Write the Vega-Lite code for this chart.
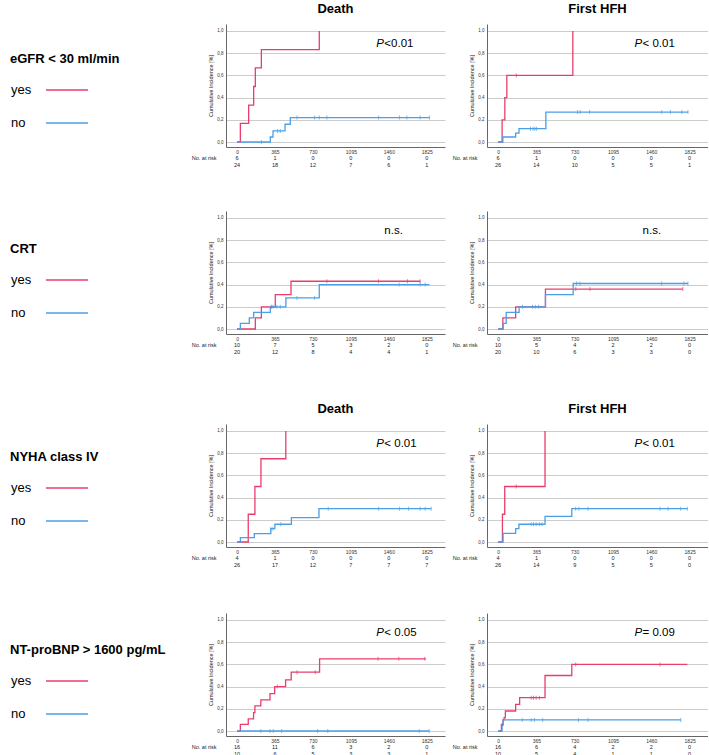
{
"$schema":"https://vega.github.io/schema/vega-lite/v6.json",
"padding":{"left":10,"top":3,"right":0,"bottom":0},
"background":"white",
"config":{"view":{"stroke":null},"font":"Liberation Sans","title":{"fontSize":13,"fontWeight":"bold","font":"Liberation Sans","color":"#000","offset":8,"anchor":"middle"},
"legend":{"orient":"none","legendX":-216,"legendY":29,"titleFontSize":13,"titleFontWeight":"bold","titleColor":"#000","titlePadding":2,"titleLimit":0,"labelFontSize":13,"labelColor":"#000","symbolType":"stroke","symbolSize":1764,"symbolStrokeWidth":1.5,"symbolOffset":35,"labelOffset":-78,"rowPadding":4}
},
"datasets":{
"curves":[
{"panel":"A1","group":"yes","t":0,"p":0},{"panel":"A1","group":"yes","t":32,"p":0.167},{"panel":"A1","group":"yes","t":112,"p":0.333},{"panel":"A1","group":"yes","t":160,"p":0.5},{"panel":"A1","group":"yes","t":176,"p":0.667},{"panel":"A1","group":"yes","t":234,"p":0.833},{"panel":"A1","group":"yes","t":791,"p":1},
{"panel":"A1","group":"no","t":0,"p":0},{"panel":"A1","group":"no","t":320,"p":0.045},{"panel":"A1","group":"no","t":346,"p":0.1},{"panel":"A1","group":"no","t":462,"p":0.16},{"panel":"A1","group":"no","t":512,"p":0.22},{"panel":"A1","group":"no","t":1851,"p":0.22},
{"panel":"A2","group":"yes","t":0,"p":0},{"panel":"A2","group":"yes","t":38,"p":0.2},{"panel":"A2","group":"yes","t":64,"p":0.4},{"panel":"A2","group":"yes","t":83,"p":0.6},{"panel":"A2","group":"yes","t":712,"p":1},
{"panel":"A2","group":"no","t":0,"p":0},{"panel":"A2","group":"no","t":45,"p":0.045},{"panel":"A2","group":"no","t":167,"p":0.08},{"panel":"A2","group":"no","t":199,"p":0.12},{"panel":"A2","group":"no","t":455,"p":0.27},{"panel":"A2","group":"no","t":1809,"p":0.27},
{"panel":"B1","group":"yes","t":0,"p":0},{"panel":"B1","group":"yes","t":176,"p":0.1},{"panel":"B1","group":"yes","t":234,"p":0.2},{"panel":"B1","group":"yes","t":368,"p":0.31},{"panel":"B1","group":"yes","t":519,"p":0.43},{"panel":"B1","group":"yes","t":1761,"p":0.43},
{"panel":"B1","group":"no","t":0,"p":0},{"panel":"B1","group":"no","t":32,"p":0.05},{"panel":"B1","group":"no","t":118,"p":0.1},{"panel":"B1","group":"no","t":160,"p":0.15},{"panel":"B1","group":"no","t":320,"p":0.2},{"panel":"B1","group":"no","t":470,"p":0.28},{"panel":"B1","group":"no","t":791,"p":0.4},{"panel":"B1","group":"no","t":1851,"p":0.4},
{"panel":"B2","group":"yes","t":0,"p":0},{"panel":"B2","group":"yes","t":45,"p":0.1},{"panel":"B2","group":"yes","t":167,"p":0.2},{"panel":"B2","group":"yes","t":451,"p":0.36},{"panel":"B2","group":"yes","t":1760,"p":0.36},
{"panel":"B2","group":"no","t":0,"p":0},{"panel":"B2","group":"no","t":48,"p":0.05},{"panel":"B2","group":"no","t":77,"p":0.15},{"panel":"B2","group":"no","t":200,"p":0.2},{"panel":"B2","group":"no","t":451,"p":0.31},{"panel":"B2","group":"no","t":715,"p":0.41},{"panel":"B2","group":"no","t":1809,"p":0.41},
{"panel":"C1","group":"yes","t":0,"p":0},{"panel":"C1","group":"yes","t":108,"p":0.25},{"panel":"C1","group":"yes","t":172,"p":0.5},{"panel":"C1","group":"yes","t":230,"p":0.75},{"panel":"C1","group":"yes","t":469,"p":1},
{"panel":"C1","group":"no","t":0,"p":0},{"panel":"C1","group":"no","t":32,"p":0.04},{"panel":"C1","group":"no","t":166,"p":0.075},{"panel":"C1","group":"no","t":325,"p":0.12},{"panel":"C1","group":"no","t":364,"p":0.16},{"panel":"C1","group":"no","t":523,"p":0.22},{"panel":"C1","group":"no","t":788,"p":0.3},{"panel":"C1","group":"no","t":1867,"p":0.3},
{"panel":"C2","group":"yes","t":0,"p":0},{"panel":"C2","group":"yes","t":41,"p":0.25},{"panel":"C2","group":"yes","t":63,"p":0.5},{"panel":"C2","group":"yes","t":447,"p":1},
{"panel":"C2","group":"no","t":0,"p":0},{"panel":"C2","group":"no","t":47,"p":0.078},{"panel":"C2","group":"no","t":167,"p":0.12},{"panel":"C2","group":"no","t":198,"p":0.16},{"panel":"C2","group":"no","t":447,"p":0.23},{"panel":"C2","group":"no","t":702,"p":0.3},{"panel":"C2","group":"no","t":1803,"p":0.3},
{"panel":"D1","group":"yes","t":0,"p":0},{"panel":"D1","group":"yes","t":32,"p":0.06},{"panel":"D1","group":"yes","t":108,"p":0.11},{"panel":"D1","group":"yes","t":159,"p":0.166},{"panel":"D1","group":"yes","t":172,"p":0.226},{"panel":"D1","group":"yes","t":229,"p":0.28},{"panel":"D1","group":"yes","t":317,"p":0.337},{"panel":"D1","group":"yes","t":362,"p":0.4},{"panel":"D1","group":"yes","t":467,"p":0.46},{"panel":"D1","group":"yes","t":521,"p":0.53},{"panel":"D1","group":"yes","t":794,"p":0.65},{"panel":"D1","group":"yes","t":1816,"p":0.65},
{"panel":"D1","group":"no","t":0,"p":0},{"panel":"D1","group":"no","t":1848,"p":0},
{"panel":"D2","group":"yes","t":0,"p":0},{"panel":"D2","group":"yes","t":31,"p":0.06},{"panel":"D2","group":"yes","t":47,"p":0.1},{"panel":"D2","group":"yes","t":57,"p":0.12},{"panel":"D2","group":"yes","t":69,"p":0.18},{"panel":"D2","group":"yes","t":167,"p":0.24},{"panel":"D2","group":"yes","t":205,"p":0.3},{"panel":"D2","group":"yes","t":447,"p":0.5},{"panel":"D2","group":"yes","t":702,"p":0.6},{"panel":"D2","group":"yes","t":1803,"p":0.6},
{"panel":"D2","group":"no","t":0,"p":0},{"panel":"D2","group":"no","t":38,"p":0.05},{"panel":"D2","group":"no","t":47,"p":0.1},{"panel":"D2","group":"no","t":1740,"p":0.1}
],
"censor":[
{"panel":"A1","group":"no","t":234,"p":0},{"panel":"A1","group":"no","t":390,"p":0.1},{"panel":"A1","group":"no","t":416,"p":0.1},{"panel":"A1","group":"no","t":576,"p":0.22},{"panel":"A1","group":"no","t":746,"p":0.22},{"panel":"A1","group":"no","t":791,"p":0.22},{"panel":"A1","group":"no","t":864,"p":0.22},{"panel":"A1","group":"no","t":1361,"p":0.22},{"panel":"A1","group":"no","t":1563,"p":0.22},{"panel":"A1","group":"no","t":1633,"p":0.22},{"panel":"A1","group":"no","t":1761,"p":0.22},{"panel":"A1","group":"no","t":1851,"p":0.22},
{"panel":"A2","group":"yes","t":173,"p":0.6},
{"panel":"A2","group":"no","t":308,"p":0.12},{"panel":"A2","group":"no","t":333,"p":0.12},{"panel":"A2","group":"no","t":350,"p":0.12},{"panel":"A2","group":"no","t":366,"p":0.12},{"panel":"A2","group":"no","t":757,"p":0.27},{"panel":"A2","group":"no","t":782,"p":0.27},{"panel":"A2","group":"no","t":872,"p":0.27},{"panel":"A2","group":"no","t":1559,"p":0.27},{"panel":"A2","group":"no","t":1642,"p":0.27},{"panel":"A2","group":"no","t":1751,"p":0.27},{"panel":"A2","group":"no","t":1809,"p":0.27},
{"panel":"B1","group":"yes","t":330,"p":0.2},{"panel":"B1","group":"yes","t":864,"p":0.43},{"panel":"B1","group":"yes","t":1361,"p":0.43},{"panel":"B1","group":"yes","t":1639,"p":0.43},{"panel":"B1","group":"yes","t":1761,"p":0.43},
{"panel":"B1","group":"no","t":346,"p":0.2},{"panel":"B1","group":"no","t":384,"p":0.2},{"panel":"B1","group":"no","t":416,"p":0.2},{"panel":"B1","group":"no","t":576,"p":0.28},{"panel":"B1","group":"no","t":746,"p":0.28},{"panel":"B1","group":"no","t":1559,"p":0.4},{"panel":"B1","group":"no","t":1761,"p":0.4},{"panel":"B1","group":"no","t":1809,"p":0.4},
{"panel":"B2","group":"yes","t":740,"p":0.36},{"panel":"B2","group":"yes","t":875,"p":0.36},{"panel":"B2","group":"yes","t":1760,"p":0.36},
{"panel":"B2","group":"no","t":232,"p":0.2},{"panel":"B2","group":"no","t":328,"p":0.2},{"panel":"B2","group":"no","t":354,"p":0.2},{"panel":"B2","group":"no","t":386,"p":0.2},{"panel":"B2","group":"no","t":747,"p":0.41},{"panel":"B2","group":"no","t":779,"p":0.41},{"panel":"B2","group":"no","t":1558,"p":0.41},{"panel":"B2","group":"no","t":1770,"p":0.41},{"panel":"B2","group":"no","t":1809,"p":0.41},
{"panel":"C1","group":"no","t":325,"p":0.12},{"panel":"C1","group":"no","t":345,"p":0.12},{"panel":"C1","group":"no","t":420,"p":0.16},{"panel":"C1","group":"no","t":877,"p":0.3},{"panel":"C1","group":"no","t":1362,"p":0.3},{"panel":"C1","group":"no","t":1563,"p":0.3},{"panel":"C1","group":"no","t":1650,"p":0.3},{"panel":"C1","group":"no","t":1761,"p":0.3},{"panel":"C1","group":"no","t":1809,"p":0.3},{"panel":"C1","group":"no","t":1867,"p":0.3},
{"panel":"C2","group":"yes","t":173,"p":0.5},
{"panel":"C2","group":"no","t":315,"p":0.16},{"panel":"C2","group":"no","t":337,"p":0.16},{"panel":"C2","group":"no","t":362,"p":0.16},{"panel":"C2","group":"no","t":393,"p":0.16},{"panel":"C2","group":"no","t":418,"p":0.16},{"panel":"C2","group":"no","t":739,"p":0.3},{"panel":"C2","group":"no","t":770,"p":0.3},{"panel":"C2","group":"no","t":856,"p":0.3},{"panel":"C2","group":"no","t":1542,"p":0.3},{"panel":"C2","group":"no","t":1620,"p":0.3},{"panel":"C2","group":"no","t":1740,"p":0.3},{"panel":"C2","group":"no","t":1803,"p":0.3},
{"panel":"D1","group":"yes","t":387,"p":0.4},{"panel":"D1","group":"yes","t":578,"p":0.53},{"panel":"D1","group":"yes","t":752,"p":0.53},{"panel":"D1","group":"yes","t":1356,"p":0.65},{"panel":"D1","group":"yes","t":1556,"p":0.65},{"panel":"D1","group":"yes","t":1806,"p":0.65},
{"panel":"D1","group":"no","t":229,"p":0},{"panel":"D1","group":"no","t":317,"p":0},{"panel":"D1","group":"no","t":349,"p":0},{"panel":"D1","group":"no","t":429,"p":0},{"panel":"D1","group":"no","t":775,"p":0},{"panel":"D1","group":"no","t":873,"p":0},{"panel":"D1","group":"no","t":1752,"p":0},{"panel":"D1","group":"no","t":1848,"p":0},
{"panel":"D2","group":"yes","t":315,"p":0.3},{"panel":"D2","group":"yes","t":337,"p":0.3},{"panel":"D2","group":"yes","t":362,"p":0.3},{"panel":"D2","group":"yes","t":393,"p":0.3},{"panel":"D2","group":"yes","t":739,"p":0.6},{"panel":"D2","group":"yes","t":1542,"p":0.6},
{"panel":"D2","group":"no","t":230,"p":0.1},{"panel":"D2","group":"no","t":315,"p":0.1},{"panel":"D2","group":"no","t":346,"p":0.1},{"panel":"D2","group":"no","t":425,"p":0.1},{"panel":"D2","group":"no","t":765,"p":0.1},{"panel":"D2","group":"no","t":856,"p":0.1},{"panel":"D2","group":"no","t":1740,"p":0.1}
],
"risk":[
{"panel":"A1","group":"yes","t":0,"n":6},{"panel":"A1","group":"yes","t":365,"n":1},{"panel":"A1","group":"yes","t":730,"n":0},{"panel":"A1","group":"yes","t":1095,"n":0},{"panel":"A1","group":"yes","t":1460,"n":0},{"panel":"A1","group":"yes","t":1825,"n":0},
{"panel":"A1","group":"no","t":0,"n":24},{"panel":"A1","group":"no","t":365,"n":18},{"panel":"A1","group":"no","t":730,"n":12},{"panel":"A1","group":"no","t":1095,"n":7},{"panel":"A1","group":"no","t":1460,"n":6},{"panel":"A1","group":"no","t":1825,"n":1},
{"panel":"A2","group":"yes","t":0,"n":6},{"panel":"A2","group":"yes","t":365,"n":1},{"panel":"A2","group":"yes","t":730,"n":0},{"panel":"A2","group":"yes","t":1095,"n":0},{"panel":"A2","group":"yes","t":1460,"n":0},{"panel":"A2","group":"yes","t":1825,"n":0},
{"panel":"A2","group":"no","t":0,"n":26},{"panel":"A2","group":"no","t":365,"n":14},{"panel":"A2","group":"no","t":730,"n":10},{"panel":"A2","group":"no","t":1095,"n":5},{"panel":"A2","group":"no","t":1460,"n":5},{"panel":"A2","group":"no","t":1825,"n":1},
{"panel":"B1","group":"yes","t":0,"n":10},{"panel":"B1","group":"yes","t":365,"n":7},{"panel":"B1","group":"yes","t":730,"n":5},{"panel":"B1","group":"yes","t":1095,"n":3},{"panel":"B1","group":"yes","t":1460,"n":2},{"panel":"B1","group":"yes","t":1825,"n":0},
{"panel":"B1","group":"no","t":0,"n":20},{"panel":"B1","group":"no","t":365,"n":12},{"panel":"B1","group":"no","t":730,"n":8},{"panel":"B1","group":"no","t":1095,"n":4},{"panel":"B1","group":"no","t":1460,"n":4},{"panel":"B1","group":"no","t":1825,"n":1},
{"panel":"B2","group":"yes","t":0,"n":10},{"panel":"B2","group":"yes","t":365,"n":5},{"panel":"B2","group":"yes","t":730,"n":4},{"panel":"B2","group":"yes","t":1095,"n":2},{"panel":"B2","group":"yes","t":1460,"n":2},{"panel":"B2","group":"yes","t":1825,"n":0},
{"panel":"B2","group":"no","t":0,"n":20},{"panel":"B2","group":"no","t":365,"n":10},{"panel":"B2","group":"no","t":730,"n":6},{"panel":"B2","group":"no","t":1095,"n":3},{"panel":"B2","group":"no","t":1460,"n":3},{"panel":"B2","group":"no","t":1825,"n":0},
{"panel":"C1","group":"yes","t":0,"n":4},{"panel":"C1","group":"yes","t":365,"n":1},{"panel":"C1","group":"yes","t":730,"n":0},{"panel":"C1","group":"yes","t":1095,"n":0},{"panel":"C1","group":"yes","t":1460,"n":0},{"panel":"C1","group":"yes","t":1825,"n":0},
{"panel":"C1","group":"no","t":0,"n":26},{"panel":"C1","group":"no","t":365,"n":17},{"panel":"C1","group":"no","t":730,"n":12},{"panel":"C1","group":"no","t":1095,"n":7},{"panel":"C1","group":"no","t":1460,"n":7},{"panel":"C1","group":"no","t":1825,"n":7},
{"panel":"C2","group":"yes","t":0,"n":4},{"panel":"C2","group":"yes","t":365,"n":1},{"panel":"C2","group":"yes","t":730,"n":0},{"panel":"C2","group":"yes","t":1095,"n":0},{"panel":"C2","group":"yes","t":1460,"n":0},{"panel":"C2","group":"yes","t":1825,"n":0},
{"panel":"C2","group":"no","t":0,"n":26},{"panel":"C2","group":"no","t":365,"n":14},{"panel":"C2","group":"no","t":730,"n":9},{"panel":"C2","group":"no","t":1095,"n":5},{"panel":"C2","group":"no","t":1460,"n":5},{"panel":"C2","group":"no","t":1825,"n":0},
{"panel":"D1","group":"yes","t":0,"n":16},{"panel":"D1","group":"yes","t":365,"n":11},{"panel":"D1","group":"yes","t":730,"n":6},{"panel":"D1","group":"yes","t":1095,"n":3},{"panel":"D1","group":"yes","t":1460,"n":2},{"panel":"D1","group":"yes","t":1825,"n":0},
{"panel":"D1","group":"no","t":0,"n":10},{"panel":"D1","group":"no","t":365,"n":6},{"panel":"D1","group":"no","t":730,"n":5},{"panel":"D1","group":"no","t":1095,"n":3},{"panel":"D1","group":"no","t":1460,"n":3},{"panel":"D1","group":"no","t":1825,"n":1},
{"panel":"D2","group":"yes","t":0,"n":16},{"panel":"D2","group":"yes","t":365,"n":6},{"panel":"D2","group":"yes","t":730,"n":4},{"panel":"D2","group":"yes","t":1095,"n":2},{"panel":"D2","group":"yes","t":1460,"n":2},{"panel":"D2","group":"yes","t":1825,"n":0},
{"panel":"D2","group":"no","t":0,"n":10},{"panel":"D2","group":"no","t":365,"n":5},{"panel":"D2","group":"no","t":730,"n":4},{"panel":"D2","group":"no","t":1095,"n":1},{"panel":"D2","group":"no","t":1460,"n":1},{"panel":"D2","group":"no","t":1825,"n":0}
],
"annot":[
{"panel":"A1","p":"P","rest":"<0.01"},{"panel":"A2","p":"P","rest":"< 0.01"},{"panel":"B1","p":"","rest":"n.s."},{"panel":"B2","p":"","rest":"n.s."},{"panel":"C1","p":"P","rest":"< 0.01"},{"panel":"C2","p":"P","rest":"< 0.01"},{"panel":"D1","p":"P","rest":"< 0.05"},{"panel":"D2","p":"P","rest":"= 0.09"}
]
},
"spacing":48,
"resolve":{"scale":{"color":"independent"},"legend":{"color":"independent"}},
"vconcat":[
{"spacing":43,"resolve":{"scale":{"color":"independent"},"legend":{"color":"independent"}},"vconcat":[
{"spacing":7,"resolve":{"scale":{"color":"independent"},"legend":{"color":"independent"}},"hconcat":[
 {"spacing":0,"resolve":{"scale":{"color":"independent"},"legend":{"color":"independent"}},"vconcat":[
  {"width":219,"height":123,"title":"Death","layer":[
   {"data":{"name":"curves"},"transform":[{"filter":"datum.panel=='A1'"}],"mark":{"type":"line","interpolate":"step-after","strokeWidth":1.3},
    "encoding":{"x":{"field":"t","type":"quantitative","scale":{"domain":[-106,2000],"nice":false,"zero":false},"axis":{"values":[0,365,730,1095,1460,1825],"tickCount":12,"format":"d","title":null,"labelFontSize":5,"labelColor":"#333","ticks":false,"labelPadding":2,"grid":false,"domainColor":"#666","labelFlush":false,"labelOverlap":false}},
     "y":{"field":"p","type":"quantitative","scale":{"domain":[-0.045,1.063],"nice":false,"zero":false},"axis":{"values":[0,0.2,0.4,0.6,0.8,1],"tickCount":12,"labelExpr":"replace(format(datum.value,'.1f'),'.',',')","title":"Cumulative Incidence [%]","titleFontSize":5.5,"titleFontWeight":"normal","titleColor":"#222","titlePadding":3,"labelFontSize":4.5,"labelColor":"#333","ticks":false,"labelPadding":3,"grid":true,"gridColor":"#cccccc","domainColor":"#666","labelOverlap":false}},
     "color":{"field":"group","type":"nominal","scale":{"domain":["yes","no"],"range":["#e83e6c","#4a9fe6"]},"legend":{"title":"eGFR < 30 ml/min","legendY":29}}}},
   {"data":{"name":"censor"},"transform":[{"filter":"datum.panel=='A1'"}],"mark":{"type":"tick","orient":"vertical","size":4,"thickness":1},
    "encoding":{"x":{"field":"t","type":"quantitative"},"y":{"field":"p","type":"quantitative"},"color":{"field":"group","type":"nominal","legend":null}}},
   {"data":{"name":"annot"},"transform":[{"filter":"datum.panel=='A1'"}],"mark":{"type":"text","align":"left","baseline":"middle","fontSize":11.5,"fontStyle":"italic","color":"#000"},
    "encoding":{"x":{"datum":1340,"type":"quantitative"},"y":{"datum":0.88,"type":"quantitative"},"text":{"field":"p"}}},
   {"data":{"name":"annot"},"transform":[{"filter":"datum.panel=='A1'"}],"mark":{"type":"text","align":"left","baseline":"middle","fontSize":11.5,"dx":8,"color":"#000"},
    "encoding":{"x":{"datum":1340,"type":"quantitative"},"y":{"datum":0.88,"type":"quantitative"},"text":{"field":"rest"}}}
  ]},
  {"width":219,"height":14,"data":{"name":"risk"},"transform":[{"filter":"datum.panel=='A1'"}],"mark":{"type":"text","fontSize":5.5,"color":"#222"},
   "encoding":{"x":{"field":"t","type":"quantitative","scale":{"domain":[-106,2000],"nice":false,"zero":false},"axis":null},"y":{"field":"group","type":"nominal","scale":{"domain":["yes","no"]},"axis":{"labelExpr":"datum.value=='yes' ? 'No. at risk' : ''","title":null,"domain":false,"ticks":false,"labelFontSize":5.5,"labelPadding":10,"labelColor":"#222","labelOverlap":false}},"text":{"field":"n","type":"quantitative"}}}
 ]},
 {"spacing":0,"resolve":{"scale":{"color":"independent"},"legend":{"color":"independent"}},"vconcat":[
  {"width":221,"height":123,"title":"First HFH","layer":[
   {"data":{"name":"curves"},"transform":[{"filter":"datum.panel=='A2'"}],"mark":{"type":"line","interpolate":"step-after","strokeWidth":1.3},
    "encoding":{"x":{"field":"t","type":"quantitative","scale":{"domain":[-106,2000],"nice":false,"zero":false},"axis":{"values":[0,365,730,1095,1460,1825],"tickCount":12,"format":"d","title":null,"labelFontSize":5,"labelColor":"#333","ticks":false,"labelPadding":2,"grid":false,"domainColor":"#666","labelFlush":false,"labelOverlap":false}},
     "y":{"field":"p","type":"quantitative","scale":{"domain":[-0.045,1.063],"nice":false,"zero":false},"axis":{"values":[0,0.2,0.4,0.6,0.8,1],"tickCount":12,"labelExpr":"replace(format(datum.value,'.1f'),'.',',')","title":"Cumulative Incidence [%]","titleFontSize":5.5,"titleFontWeight":"normal","titleColor":"#222","titlePadding":3,"labelFontSize":4.5,"labelColor":"#333","ticks":false,"labelPadding":3,"grid":true,"gridColor":"#cccccc","domainColor":"#666","labelOverlap":false}},
     "color":{"field":"group","type":"nominal","scale":{"domain":["yes","no"],"range":["#e83e6c","#4a9fe6"]},"legend":null}}},
   {"data":{"name":"censor"},"transform":[{"filter":"datum.panel=='A2'"}],"mark":{"type":"tick","orient":"vertical","size":4,"thickness":1},
    "encoding":{"x":{"field":"t","type":"quantitative"},"y":{"field":"p","type":"quantitative"},"color":{"field":"group","type":"nominal","legend":null}}},
   {"data":{"name":"annot"},"transform":[{"filter":"datum.panel=='A2'"}],"mark":{"type":"text","align":"left","baseline":"middle","fontSize":11.5,"fontStyle":"italic","color":"#000"},
    "encoding":{"x":{"datum":1300,"type":"quantitative"},"y":{"datum":0.88,"type":"quantitative"},"text":{"field":"p"}}},
   {"data":{"name":"annot"},"transform":[{"filter":"datum.panel=='A2'"}],"mark":{"type":"text","align":"left","baseline":"middle","fontSize":11.5,"dx":8,"color":"#000"},
    "encoding":{"x":{"datum":1300,"type":"quantitative"},"y":{"datum":0.88,"type":"quantitative"},"text":{"field":"rest"}}}
  ]},
  {"width":221,"height":14,"data":{"name":"risk"},"transform":[{"filter":"datum.panel=='A2'"}],"mark":{"type":"text","fontSize":5.5,"color":"#222"},
   "encoding":{"x":{"field":"t","type":"quantitative","scale":{"domain":[-106,2000],"nice":false,"zero":false},"axis":null},"y":{"field":"group","type":"nominal","scale":{"domain":["yes","no"]},"axis":{"labelExpr":"datum.value=='yes' ? 'No. at risk' : ''","title":null,"domain":false,"ticks":false,"labelFontSize":5.5,"labelPadding":10,"labelColor":"#222","labelOverlap":false}},"text":{"field":"n","type":"quantitative"}}}
 ]}
]},
{"spacing":7,"resolve":{"scale":{"color":"independent"},"legend":{"color":"independent"}},"hconcat":[
 {"spacing":0,"resolve":{"scale":{"color":"independent"},"legend":{"color":"independent"}},"vconcat":[
  {"width":219,"height":123,"layer":[
   {"data":{"name":"curves"},"transform":[{"filter":"datum.panel=='B1'"}],"mark":{"type":"line","interpolate":"step-after","strokeWidth":1.3},
    "encoding":{"x":{"field":"t","type":"quantitative","scale":{"domain":[-106,2000],"nice":false,"zero":false},"axis":{"values":[0,365,730,1095,1460,1825],"tickCount":12,"format":"d","title":null,"labelFontSize":5,"labelColor":"#333","ticks":false,"labelPadding":2,"grid":false,"domainColor":"#666","labelFlush":false,"labelOverlap":false}},
     "y":{"field":"p","type":"quantitative","scale":{"domain":[-0.045,1.063],"nice":false,"zero":false},"axis":{"values":[0,0.2,0.4,0.6,0.8,1],"tickCount":12,"labelExpr":"replace(format(datum.value,'.1f'),'.',',')","title":"Cumulative Incidence [%]","titleFontSize":5.5,"titleFontWeight":"normal","titleColor":"#222","titlePadding":3,"labelFontSize":4.5,"labelColor":"#333","ticks":false,"labelPadding":3,"grid":true,"gridColor":"#cccccc","domainColor":"#666","labelOverlap":false}},
     "color":{"field":"group","type":"nominal","scale":{"domain":["yes","no"],"range":["#e83e6c","#4a9fe6"]},"legend":{"title":"CRT","legendY":32}}}},
   {"data":{"name":"censor"},"transform":[{"filter":"datum.panel=='B1'"}],"mark":{"type":"tick","orient":"vertical","size":4,"thickness":1},
    "encoding":{"x":{"field":"t","type":"quantitative"},"y":{"field":"p","type":"quantitative"},"color":{"field":"group","type":"nominal","legend":null}}},
   {"data":{"name":"annot"},"transform":[{"filter":"datum.panel=='B1'"}],"mark":{"type":"text","align":"left","baseline":"middle","fontSize":11.5,"fontStyle":"italic","color":"#000"},
    "encoding":{"x":{"datum":1340,"type":"quantitative"},"y":{"datum":0.88,"type":"quantitative"},"text":{"field":"p"}}},
   {"data":{"name":"annot"},"transform":[{"filter":"datum.panel=='B1'"}],"mark":{"type":"text","align":"left","baseline":"middle","fontSize":11.5,"dx":8,"color":"#000"},
    "encoding":{"x":{"datum":1340,"type":"quantitative"},"y":{"datum":0.88,"type":"quantitative"},"text":{"field":"rest"}}}
  ]},
  {"width":219,"height":14,"data":{"name":"risk"},"transform":[{"filter":"datum.panel=='B1'"}],"mark":{"type":"text","fontSize":5.5,"color":"#222"},
   "encoding":{"x":{"field":"t","type":"quantitative","scale":{"domain":[-106,2000],"nice":false,"zero":false},"axis":null},"y":{"field":"group","type":"nominal","scale":{"domain":["yes","no"]},"axis":{"labelExpr":"datum.value=='yes' ? 'No. at risk' : ''","title":null,"domain":false,"ticks":false,"labelFontSize":5.5,"labelPadding":10,"labelColor":"#222","labelOverlap":false}},"text":{"field":"n","type":"quantitative"}}}
 ]},
 {"spacing":0,"resolve":{"scale":{"color":"independent"},"legend":{"color":"independent"}},"vconcat":[
  {"width":221,"height":123,"layer":[
   {"data":{"name":"curves"},"transform":[{"filter":"datum.panel=='B2'"}],"mark":{"type":"line","interpolate":"step-after","strokeWidth":1.3},
    "encoding":{"x":{"field":"t","type":"quantitative","scale":{"domain":[-106,2000],"nice":false,"zero":false},"axis":{"values":[0,365,730,1095,1460,1825],"tickCount":12,"format":"d","title":null,"labelFontSize":5,"labelColor":"#333","ticks":false,"labelPadding":2,"grid":false,"domainColor":"#666","labelFlush":false,"labelOverlap":false}},
     "y":{"field":"p","type":"quantitative","scale":{"domain":[-0.045,1.063],"nice":false,"zero":false},"axis":{"values":[0,0.2,0.4,0.6,0.8,1],"tickCount":12,"labelExpr":"replace(format(datum.value,'.1f'),'.',',')","title":"Cumulative Incidence [%]","titleFontSize":5.5,"titleFontWeight":"normal","titleColor":"#222","titlePadding":3,"labelFontSize":4.5,"labelColor":"#333","ticks":false,"labelPadding":3,"grid":true,"gridColor":"#cccccc","domainColor":"#666","labelOverlap":false}},
     "color":{"field":"group","type":"nominal","scale":{"domain":["yes","no"],"range":["#e83e6c","#4a9fe6"]},"legend":null}}},
   {"data":{"name":"censor"},"transform":[{"filter":"datum.panel=='B2'"}],"mark":{"type":"tick","orient":"vertical","size":4,"thickness":1},
    "encoding":{"x":{"field":"t","type":"quantitative"},"y":{"field":"p","type":"quantitative"},"color":{"field":"group","type":"nominal","legend":null}}},
   {"data":{"name":"annot"},"transform":[{"filter":"datum.panel=='B2'"}],"mark":{"type":"text","align":"left","baseline":"middle","fontSize":11.5,"fontStyle":"italic","color":"#000"},
    "encoding":{"x":{"datum":1300,"type":"quantitative"},"y":{"datum":0.88,"type":"quantitative"},"text":{"field":"p"}}},
   {"data":{"name":"annot"},"transform":[{"filter":"datum.panel=='B2'"}],"mark":{"type":"text","align":"left","baseline":"middle","fontSize":11.5,"dx":8,"color":"#000"},
    "encoding":{"x":{"datum":1300,"type":"quantitative"},"y":{"datum":0.88,"type":"quantitative"},"text":{"field":"rest"}}}
  ]},
  {"width":221,"height":14,"data":{"name":"risk"},"transform":[{"filter":"datum.panel=='B2'"}],"mark":{"type":"text","fontSize":5.5,"color":"#222"},
   "encoding":{"x":{"field":"t","type":"quantitative","scale":{"domain":[-106,2000],"nice":false,"zero":false},"axis":null},"y":{"field":"group","type":"nominal","scale":{"domain":["yes","no"]},"axis":{"labelExpr":"datum.value=='yes' ? 'No. at risk' : ''","title":null,"domain":false,"ticks":false,"labelFontSize":5.5,"labelPadding":10,"labelColor":"#222","labelOverlap":false}},"text":{"field":"n","type":"quantitative"}}}
 ]}
]}
]},
{"spacing":45,"resolve":{"scale":{"color":"independent"},"legend":{"color":"independent"}},"vconcat":[
{"spacing":7,"resolve":{"scale":{"color":"independent"},"legend":{"color":"independent"}},"hconcat":[
 {"spacing":0,"resolve":{"scale":{"color":"independent"},"legend":{"color":"independent"}},"vconcat":[
  {"width":219,"height":123,"title":"Death","layer":[
   {"data":{"name":"curves"},"transform":[{"filter":"datum.panel=='C1'"}],"mark":{"type":"line","interpolate":"step-after","strokeWidth":1.3},
    "encoding":{"x":{"field":"t","type":"quantitative","scale":{"domain":[-106,2000],"nice":false,"zero":false},"axis":{"values":[0,365,730,1095,1460,1825],"tickCount":12,"format":"d","title":null,"labelFontSize":5,"labelColor":"#333","ticks":false,"labelPadding":2,"grid":false,"domainColor":"#666","labelFlush":false,"labelOverlap":false}},
     "y":{"field":"p","type":"quantitative","scale":{"domain":[-0.045,1.063],"nice":false,"zero":false},"axis":{"values":[0,0.2,0.4,0.6,0.8,1],"tickCount":12,"labelExpr":"replace(format(datum.value,'.1f'),'.',',')","title":"Cumulative Incidence [%]","titleFontSize":5.5,"titleFontWeight":"normal","titleColor":"#222","titlePadding":3,"labelFontSize":4.5,"labelColor":"#333","ticks":false,"labelPadding":3,"grid":true,"gridColor":"#cccccc","domainColor":"#666","labelOverlap":false}},
     "color":{"field":"group","type":"nominal","scale":{"domain":["yes","no"],"range":["#e83e6c","#4a9fe6"]},"legend":{"title":"NYHA class IV","legendY":27}}}},
   {"data":{"name":"censor"},"transform":[{"filter":"datum.panel=='C1'"}],"mark":{"type":"tick","orient":"vertical","size":4,"thickness":1},
    "encoding":{"x":{"field":"t","type":"quantitative"},"y":{"field":"p","type":"quantitative"},"color":{"field":"group","type":"nominal","legend":null}}},
   {"data":{"name":"annot"},"transform":[{"filter":"datum.panel=='C1'"}],"mark":{"type":"text","align":"left","baseline":"middle","fontSize":11.5,"fontStyle":"italic","color":"#000"},
    "encoding":{"x":{"datum":1340,"type":"quantitative"},"y":{"datum":0.88,"type":"quantitative"},"text":{"field":"p"}}},
   {"data":{"name":"annot"},"transform":[{"filter":"datum.panel=='C1'"}],"mark":{"type":"text","align":"left","baseline":"middle","fontSize":11.5,"dx":8,"color":"#000"},
    "encoding":{"x":{"datum":1340,"type":"quantitative"},"y":{"datum":0.88,"type":"quantitative"},"text":{"field":"rest"}}}
  ]},
  {"width":219,"height":14,"data":{"name":"risk"},"transform":[{"filter":"datum.panel=='C1'"}],"mark":{"type":"text","fontSize":5.5,"color":"#222"},
   "encoding":{"x":{"field":"t","type":"quantitative","scale":{"domain":[-106,2000],"nice":false,"zero":false},"axis":null},"y":{"field":"group","type":"nominal","scale":{"domain":["yes","no"]},"axis":{"labelExpr":"datum.value=='yes' ? 'No. at risk' : ''","title":null,"domain":false,"ticks":false,"labelFontSize":5.5,"labelPadding":10,"labelColor":"#222","labelOverlap":false}},"text":{"field":"n","type":"quantitative"}}}
 ]},
 {"spacing":0,"resolve":{"scale":{"color":"independent"},"legend":{"color":"independent"}},"vconcat":[
  {"width":221,"height":123,"title":"First HFH","layer":[
   {"data":{"name":"curves"},"transform":[{"filter":"datum.panel=='C2'"}],"mark":{"type":"line","interpolate":"step-after","strokeWidth":1.3},
    "encoding":{"x":{"field":"t","type":"quantitative","scale":{"domain":[-106,2000],"nice":false,"zero":false},"axis":{"values":[0,365,730,1095,1460,1825],"tickCount":12,"format":"d","title":null,"labelFontSize":5,"labelColor":"#333","ticks":false,"labelPadding":2,"grid":false,"domainColor":"#666","labelFlush":false,"labelOverlap":false}},
     "y":{"field":"p","type":"quantitative","scale":{"domain":[-0.045,1.063],"nice":false,"zero":false},"axis":{"values":[0,0.2,0.4,0.6,0.8,1],"tickCount":12,"labelExpr":"replace(format(datum.value,'.1f'),'.',',')","title":"Cumulative Incidence [%]","titleFontSize":5.5,"titleFontWeight":"normal","titleColor":"#222","titlePadding":3,"labelFontSize":4.5,"labelColor":"#333","ticks":false,"labelPadding":3,"grid":true,"gridColor":"#cccccc","domainColor":"#666","labelOverlap":false}},
     "color":{"field":"group","type":"nominal","scale":{"domain":["yes","no"],"range":["#e83e6c","#4a9fe6"]},"legend":null}}},
   {"data":{"name":"censor"},"transform":[{"filter":"datum.panel=='C2'"}],"mark":{"type":"tick","orient":"vertical","size":4,"thickness":1},
    "encoding":{"x":{"field":"t","type":"quantitative"},"y":{"field":"p","type":"quantitative"},"color":{"field":"group","type":"nominal","legend":null}}},
   {"data":{"name":"annot"},"transform":[{"filter":"datum.panel=='C2'"}],"mark":{"type":"text","align":"left","baseline":"middle","fontSize":11.5,"fontStyle":"italic","color":"#000"},
    "encoding":{"x":{"datum":1300,"type":"quantitative"},"y":{"datum":0.88,"type":"quantitative"},"text":{"field":"p"}}},
   {"data":{"name":"annot"},"transform":[{"filter":"datum.panel=='C2'"}],"mark":{"type":"text","align":"left","baseline":"middle","fontSize":11.5,"dx":8,"color":"#000"},
    "encoding":{"x":{"datum":1300,"type":"quantitative"},"y":{"datum":0.88,"type":"quantitative"},"text":{"field":"rest"}}}
  ]},
  {"width":221,"height":14,"data":{"name":"risk"},"transform":[{"filter":"datum.panel=='C2'"}],"mark":{"type":"text","fontSize":5.5,"color":"#222"},
   "encoding":{"x":{"field":"t","type":"quantitative","scale":{"domain":[-106,2000],"nice":false,"zero":false},"axis":null},"y":{"field":"group","type":"nominal","scale":{"domain":["yes","no"]},"axis":{"labelExpr":"datum.value=='yes' ? 'No. at risk' : ''","title":null,"domain":false,"ticks":false,"labelFontSize":5.5,"labelPadding":10,"labelColor":"#222","labelOverlap":false}},"text":{"field":"n","type":"quantitative"}}}
 ]}
]},
{"spacing":7,"resolve":{"scale":{"color":"independent"},"legend":{"color":"independent"}},"hconcat":[
 {"spacing":0,"resolve":{"scale":{"color":"independent"},"legend":{"color":"independent"}},"vconcat":[
  {"width":219,"height":123,"layer":[
   {"data":{"name":"curves"},"transform":[{"filter":"datum.panel=='D1'"}],"mark":{"type":"line","interpolate":"step-after","strokeWidth":1.3},
    "encoding":{"x":{"field":"t","type":"quantitative","scale":{"domain":[-106,2000],"nice":false,"zero":false},"axis":{"values":[0,365,730,1095,1460,1825],"tickCount":12,"format":"d","title":null,"labelFontSize":5,"labelColor":"#333","ticks":false,"labelPadding":2,"grid":false,"domainColor":"#666","labelFlush":false,"labelOverlap":false}},
     "y":{"field":"p","type":"quantitative","scale":{"domain":[-0.045,1.063],"nice":false,"zero":false},"axis":{"values":[0,0.2,0.4,0.6,0.8,1],"tickCount":12,"labelExpr":"replace(format(datum.value,'.1f'),'.',',')","title":"Cumulative Incidence [%]","titleFontSize":5.5,"titleFontWeight":"normal","titleColor":"#222","titlePadding":3,"labelFontSize":4.5,"labelColor":"#333","ticks":false,"labelPadding":3,"grid":true,"gridColor":"#cccccc","domainColor":"#666","labelOverlap":false}},
     "color":{"field":"group","type":"nominal","scale":{"domain":["yes","no"],"range":["#e83e6c","#4a9fe6"]},"legend":{"title":"NT-proBNP > 1600 pg/mL","legendY":31}}}},
   {"data":{"name":"censor"},"transform":[{"filter":"datum.panel=='D1'"}],"mark":{"type":"tick","orient":"vertical","size":4,"thickness":1},
    "encoding":{"x":{"field":"t","type":"quantitative"},"y":{"field":"p","type":"quantitative"},"color":{"field":"group","type":"nominal","legend":null}}},
   {"data":{"name":"annot"},"transform":[{"filter":"datum.panel=='D1'"}],"mark":{"type":"text","align":"left","baseline":"middle","fontSize":11.5,"fontStyle":"italic","color":"#000"},
    "encoding":{"x":{"datum":1340,"type":"quantitative"},"y":{"datum":0.88,"type":"quantitative"},"text":{"field":"p"}}},
   {"data":{"name":"annot"},"transform":[{"filter":"datum.panel=='D1'"}],"mark":{"type":"text","align":"left","baseline":"middle","fontSize":11.5,"dx":8,"color":"#000"},
    "encoding":{"x":{"datum":1340,"type":"quantitative"},"y":{"datum":0.88,"type":"quantitative"},"text":{"field":"rest"}}}
  ]},
  {"width":219,"height":14,"data":{"name":"risk"},"transform":[{"filter":"datum.panel=='D1'"}],"mark":{"type":"text","fontSize":5.5,"color":"#222"},
   "encoding":{"x":{"field":"t","type":"quantitative","scale":{"domain":[-106,2000],"nice":false,"zero":false},"axis":null},"y":{"field":"group","type":"nominal","scale":{"domain":["yes","no"]},"axis":{"labelExpr":"datum.value=='yes' ? 'No. at risk' : ''","title":null,"domain":false,"ticks":false,"labelFontSize":5.5,"labelPadding":10,"labelColor":"#222","labelOverlap":false}},"text":{"field":"n","type":"quantitative"}}}
 ]},
 {"spacing":0,"resolve":{"scale":{"color":"independent"},"legend":{"color":"independent"}},"vconcat":[
  {"width":221,"height":123,"layer":[
   {"data":{"name":"curves"},"transform":[{"filter":"datum.panel=='D2'"}],"mark":{"type":"line","interpolate":"step-after","strokeWidth":1.3},
    "encoding":{"x":{"field":"t","type":"quantitative","scale":{"domain":[-106,2000],"nice":false,"zero":false},"axis":{"values":[0,365,730,1095,1460,1825],"tickCount":12,"format":"d","title":null,"labelFontSize":5,"labelColor":"#333","ticks":false,"labelPadding":2,"grid":false,"domainColor":"#666","labelFlush":false,"labelOverlap":false}},
     "y":{"field":"p","type":"quantitative","scale":{"domain":[-0.045,1.063],"nice":false,"zero":false},"axis":{"values":[0,0.2,0.4,0.6,0.8,1],"tickCount":12,"labelExpr":"replace(format(datum.value,'.1f'),'.',',')","title":"Cumulative Incidence [%]","titleFontSize":5.5,"titleFontWeight":"normal","titleColor":"#222","titlePadding":3,"labelFontSize":4.5,"labelColor":"#333","ticks":false,"labelPadding":3,"grid":true,"gridColor":"#cccccc","domainColor":"#666","labelOverlap":false}},
     "color":{"field":"group","type":"nominal","scale":{"domain":["yes","no"],"range":["#e83e6c","#4a9fe6"]},"legend":null}}},
   {"data":{"name":"censor"},"transform":[{"filter":"datum.panel=='D2'"}],"mark":{"type":"tick","orient":"vertical","size":4,"thickness":1},
    "encoding":{"x":{"field":"t","type":"quantitative"},"y":{"field":"p","type":"quantitative"},"color":{"field":"group","type":"nominal","legend":null}}},
   {"data":{"name":"annot"},"transform":[{"filter":"datum.panel=='D2'"}],"mark":{"type":"text","align":"left","baseline":"middle","fontSize":11.5,"fontStyle":"italic","color":"#000"},
    "encoding":{"x":{"datum":1300,"type":"quantitative"},"y":{"datum":0.88,"type":"quantitative"},"text":{"field":"p"}}},
   {"data":{"name":"annot"},"transform":[{"filter":"datum.panel=='D2'"}],"mark":{"type":"text","align":"left","baseline":"middle","fontSize":11.5,"dx":8,"color":"#000"},
    "encoding":{"x":{"datum":1300,"type":"quantitative"},"y":{"datum":0.88,"type":"quantitative"},"text":{"field":"rest"}}}
  ]},
  {"width":221,"height":14,"data":{"name":"risk"},"transform":[{"filter":"datum.panel=='D2'"}],"mark":{"type":"text","fontSize":5.5,"color":"#222"},
   "encoding":{"x":{"field":"t","type":"quantitative","scale":{"domain":[-106,2000],"nice":false,"zero":false},"axis":null},"y":{"field":"group","type":"nominal","scale":{"domain":["yes","no"]},"axis":{"labelExpr":"datum.value=='yes' ? 'No. at risk' : ''","title":null,"domain":false,"ticks":false,"labelFontSize":5.5,"labelPadding":10,"labelColor":"#222","labelOverlap":false}},"text":{"field":"n","type":"quantitative"}}}
 ]}
]}
]}
]
}
